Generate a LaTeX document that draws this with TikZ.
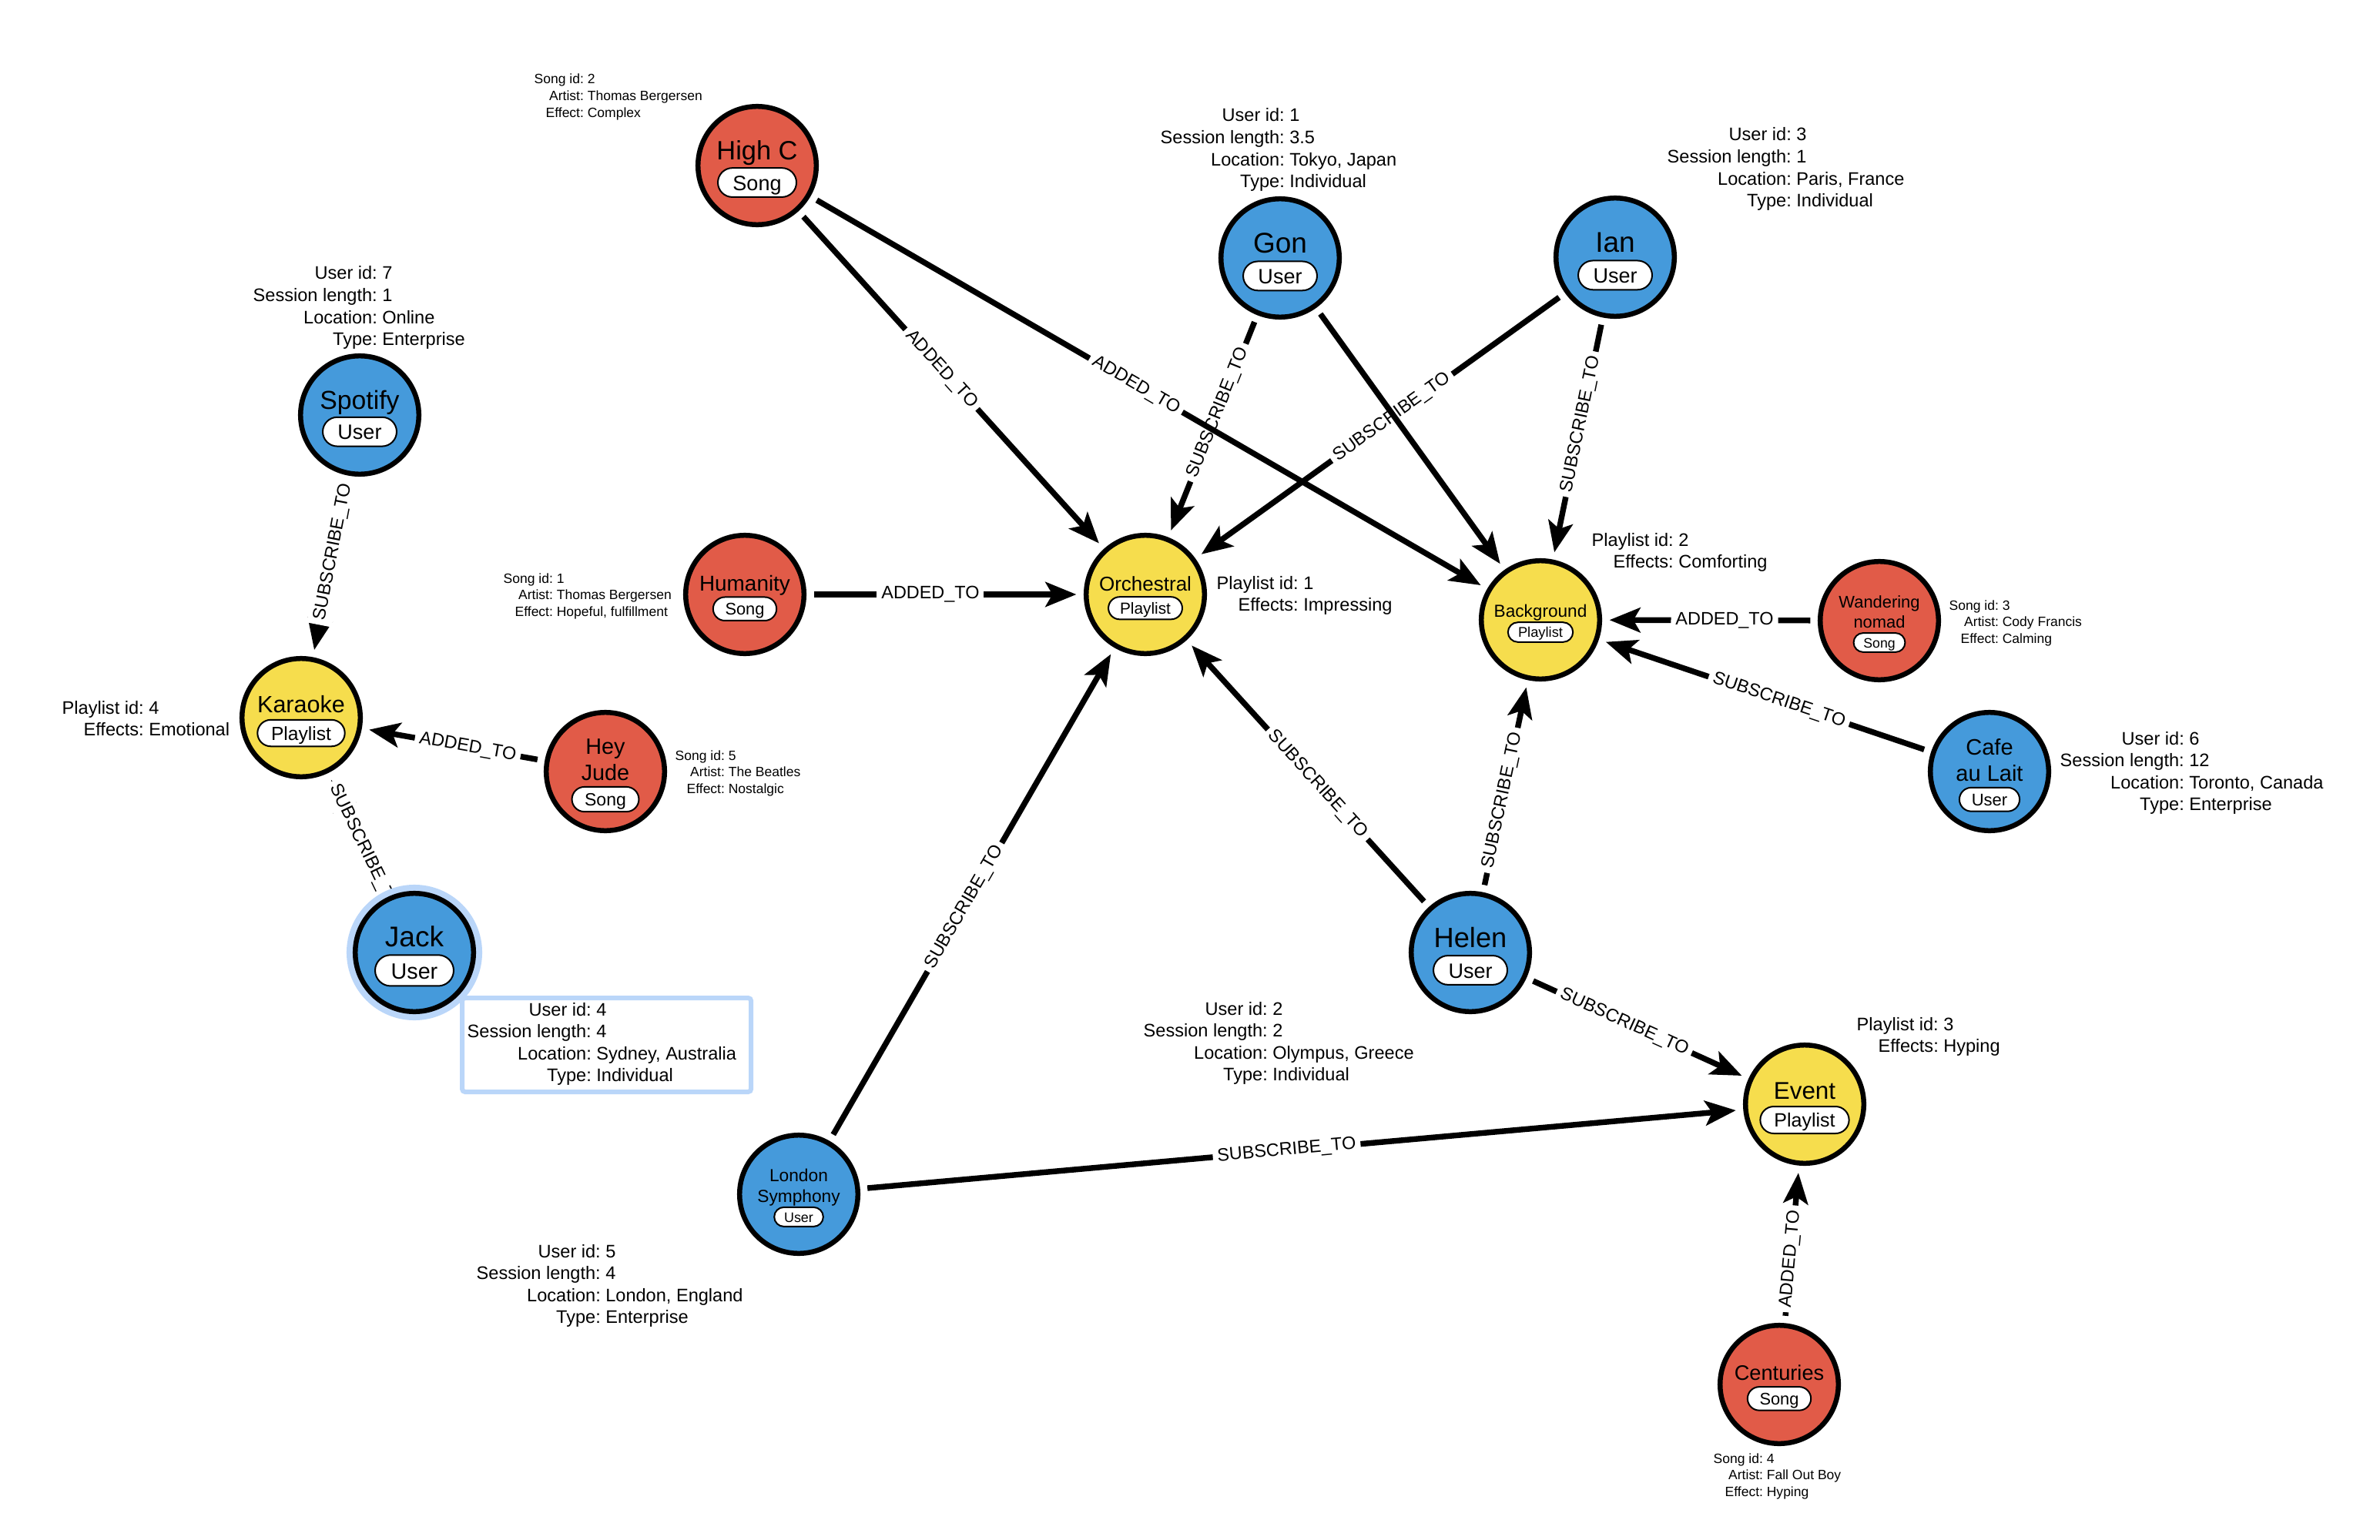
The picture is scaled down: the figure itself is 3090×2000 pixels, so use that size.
\documentclass[tikz,border=0pt]{standalone}
\usepackage{fontspec}
\setmainfont{Liberation Sans}
\usetikzlibrary{arrows.meta,calc}
\pgfdeclarelayer{canvas}
\pgfdeclarelayer{edges}
\pgfsetlayers{canvas,edges,main}

\definecolor{userblue}{HTML}{459ADB}
\definecolor{songred}{HTML}{E15B48}
\definecolor{playyellow}{HTML}{F6DD4D}
\definecolor{halo}{HTML}{BAD6F9}

% One graph entity: circle, title (one or two lines) and a pill-shaped type tag.
% #1 name, #2 x, #3 y, #4 fill, #5 first title line, #6 second title line,
% #7 title em (px), #8 tag text, #9 tag em (px)
\newcommand\entity[9]{%
  \node[ent, fill=#4] (#1) at (#2,#3) {};
  \pgfmathsetmacro\eCap{0.72*#7}%
  \pgfmathsetmacro\eLs{1.17*#7}%
  \pgfmathsetmacro\eGap{0.30*#7}%
  \pgfmathsetmacro\eHb{1.4*#9}%
  \def\eTwo{#6}%
  \ifx\eTwo\empty\def\eN{0}\else\def\eN{1}\fi
  \pgfmathsetmacro\eG{\eCap+\eN*\eLs+\eGap+\eHb}%
  \pgfmathsetmacro\eBa{#3+4.5-\eG/2+\eCap}%
  \pgfmathsetmacro\eBb{\eBa+\eN*\eLs}%
  \pgfmathsetmacro\eBc{\eBb+\eGap+\eHb/2}%
  \pgfmathsetmacro\eTf{0.28453*#7}%
  \pgfmathsetmacro\eBf{0.28453*#9}%
  \pgfmathsetmacro\eHcm{0.01*\eHb}%
  \pgfmathsetmacro\eRcm{0.005*\eHb}%
  \pgfmathsetmacro\eTh{0.0075*#9}%
  \pgfmathsetmacro\eXs{0.0072*#9}%
  \node[etitle, font=\fontsize{\eTf}{\eTf}\selectfont] (#1-a) at (#2,\eBa) {#5};
  \ifx\eTwo\empty\else
    \node[etitle, font=\fontsize{\eTf}{\eTf}\selectfont] (#1-b) at (#2,\eBb) {#6};
  \fi
  \node[etag, font=\fontsize{\eBf}{\eBf}\selectfont, minimum height=\eHcm cm,
        text height=\eTh cm, inner xsep=\eXs cm, rounded corners=\eRcm cm]
        (#1-tag) at (#2,\eBc) {#8};
}

% Property blocks, colons aligned
\newcommand\userinfo[7]{%
  \node[infobig] (#1) at (#2,#3) {\begin{tabular}[t]{@{}r@{\ }l@{}}User id:&#4\\
    Session length:&#5\\Location:&#6\\Type:&#7\end{tabular}};}
\newcommand\songinfo[6]{%
  \node[infosmall] (#1) at (#2,#3) {\begin{tabular}[t]{@{}r@{\ }l@{}}Song id:&#4\\
    Artist:&#5\\Effect:&#6\end{tabular}};}
\newcommand\playinfo[5]{%
  \node[infobig] (#1) at (#2,#3) {\begin{tabular}[t]{@{}r@{\ }l@{}}Playlist id:&#4\\
    Effects:&#5\end{tabular}};}

\begin{document}
\begin{tikzpicture}[x=0.01cm, y=-0.01cm,
  ent/.style={circle, draw=black, line width=0.065cm, minimum size=1.535cm,
    inner sep=0pt, outer sep=0.0325cm},
  etitle/.style={anchor=base, inner sep=0pt},
  etag/.style={draw=black, fill=white, line width=0.02cm, inner ysep=0pt,
    text depth=0pt},
  infobig/.style={anchor=base west, inner sep=0pt,
    font=\fontsize{6.7}{8.14}\selectfont},
  infosmall/.style={anchor=base west, inner sep=0pt,
    font=\fontsize{4.98}{6.12}\selectfont},
  rel/.style={draw=black, line width=0.074cm,
    -{Stealth[length=0.40cm, width=0.32cm, inset=0.09cm]},
    shorten >=0.095cm, shorten <=0.095cm},
  rl/.style={sloped, fill=white, inner xsep=0.06cm, inner ysep=0.06cm,
    font=\fontsize{6.66}{8}\selectfont}]

\useasboundingbox (0,0) rectangle (3090,2000);
\begin{pgfonlayer}{canvas}
  \fill[white] (0,0) rectangle (3090,2000);
\end{pgfonlayer}

% ---- property blocks ----
\songinfo{highc-info}{693}{109}{2}{Thomas Bergersen}{Complex}
\userinfo{spotify-info}{328}{363}{7}{1}{Online}{Enterprise}
\userinfo{gon-info}{1506}{158}{1}{3.5}{Tokyo, Japan}{Individual}
\userinfo{ian-info}{2164}{183}{3}{1}{Paris, France}{Individual}
\songinfo{humanity-info}{653}{757}{1}{Thomas Bergersen}{Hopeful, fulfillment}
\playinfo{orchestral-info}{1579}{765}{1}{Impressing}
\playinfo{background-info}{2066}{709}{2}{Comforting}
\songinfo{wandering-info}{2530}{792}{3}{Cody Francis}{Calming}
\userinfo{cafe-info}{2674}{967}{6}{12}{Toronto, Canada}{Enterprise}
\playinfo{karaoke-info}{80}{927}{4}{Emotional}
\songinfo{heyjude-info}{876}{987}{5}{The Beatles}{Nostalgic}
\userinfo{helen-info}{1484}{1318}{2}{2}{Olympus, Greece}{Individual}
\playinfo{event-info}{2410}{1338}{3}{Hyping}
\userinfo{london-info}{618}{1633}{5}{4}{London, England}{Enterprise}
\songinfo{centuries-info}{2224}{1900}{4}{Fall Out Boy}{Hyping}

% selected user: framed properties and halo
\node[draw=halo, fill=white, line width=0.06cm, rounded corners=0.04cm,
  minimum width=3.75cm, minimum height=1.22cm, inner sep=0pt, anchor=north west]
  (jack-box) at (597,1293) {};
\userinfo{jack-info}{606}{1319}{4}{4}{Sydney, Australia}{Individual}
\node[circle, fill=halo, minimum size=1.76cm, inner sep=0pt] (jack-halo) at (538,1237) {};

% ---- entities ----
\entity{highc}{983}{215}{songred}{High C}{}{34.4}{Song}{27}
\entity{gon}{1662}{335}{userblue}{Gon}{}{37}{User}{27}
\entity{ian}{2097}{334}{userblue}{Ian}{}{37}{User}{27}
\entity{spotify}{467}{539}{userblue}{Spotify}{}{33.7}{User}{27}
\entity{humanity}{967}{772}{songred}{Humanity}{}{27.9}{Song}{21.8}
\entity{orchestral}{1487}{772}{playyellow}{Orchestral}{}{26}{Playlist}{20.8}
\entity{background}{2000}{805}{playyellow}{Background}{}{22.6}{Playlist}{18.3}
\entity{wandering}{2440}{806}{songred}{Wandering}{nomad}{21.9}{Song}{17.7}
\entity{karaoke}{391}{932}{playyellow}{Karaoke}{}{30.5}{Playlist}{24.6}
\entity{heyjude}{786}{1002}{songred}{Hey}{Jude}{28.8}{Song}{23}
\entity{cafe}{2583}{1002}{userblue}{Cafe}{au Lait}{29}{User}{22}
\entity{jack}{538}{1237}{userblue}{Jack}{}{37}{User}{28.7}
\entity{helen}{1909}{1237}{userblue}{Helen}{}{36.2}{User}{27}
\entity{event}{2343}{1434}{playyellow}{Event}{}{31.4}{Playlist}{25}
\entity{london}{1037}{1551}{userblue}{London}{Symphony}{22.7}{User}{17.9}
\entity{centuries}{2310}{1798}{songred}{Centuries}{}{27.2}{Song}{21.8}

% ---- relationships ----
\begin{pgfonlayer}{edges}
\draw[rel] (highc) -- node[rl, pos=0.468] {ADDED\_TO} (orchestral);
\draw[rel] (gon) -- node[rl, pos=0.439] {SUBSCRIBE\_TO} (orchestral);
\draw[rel] (highc) -- node[rl, pos=0.481] {ADDED\_TO} (background);
\draw[rel] (ian) -- node[rl, pos=0.468] {SUBSCRIBE\_TO} (orchestral);
\draw[rel] (gon) -- (background);
\draw[rel] (ian) -- node[rl, pos=0.441] {SUBSCRIBE\_TO} (background);
\draw[rel] (spotify) -- node[rl, pos=0.421] {SUBSCRIBE\_TO} (karaoke);
\draw[rel] (humanity) -- node[rl, pos=0.447] {ADDED\_TO} (orchestral);
\draw[rel] (heyjude) -- node[rl, pos=0.421] {ADDED\_TO} (karaoke);
\draw[rel] (jack) -- node[rl, pos=0.395] {SUBSCRIBE\_TO} (karaoke);
\draw[rel] (helen) -- node[rl, pos=0.459] {SUBSCRIBE\_TO} (orchestral);
\draw[rel] (helen) -- node[rl, pos=0.433] {SUBSCRIBE\_TO} (background);
\draw[rel] (helen) -- node[rl, pos=0.44] {SUBSCRIBE\_TO} (event);
\draw[rel] (london) -- node[rl, pos=0.474] {SUBSCRIBE\_TO} (orchestral);
\draw[rel] (london) -- node[rl, pos=0.483] {SUBSCRIBE\_TO} (event);
\draw[rel] (wandering) -- node[rl, pos=0.432] {ADDED\_TO} (background);
\draw[rel] (cafe) -- node[rl, pos=0.458] {SUBSCRIBE\_TO} (background);
\draw[rel] (centuries) -- node[rl, pos=0.408] {ADDED\_TO} (event);
\end{pgfonlayer}

\end{tikzpicture}
\end{document}
